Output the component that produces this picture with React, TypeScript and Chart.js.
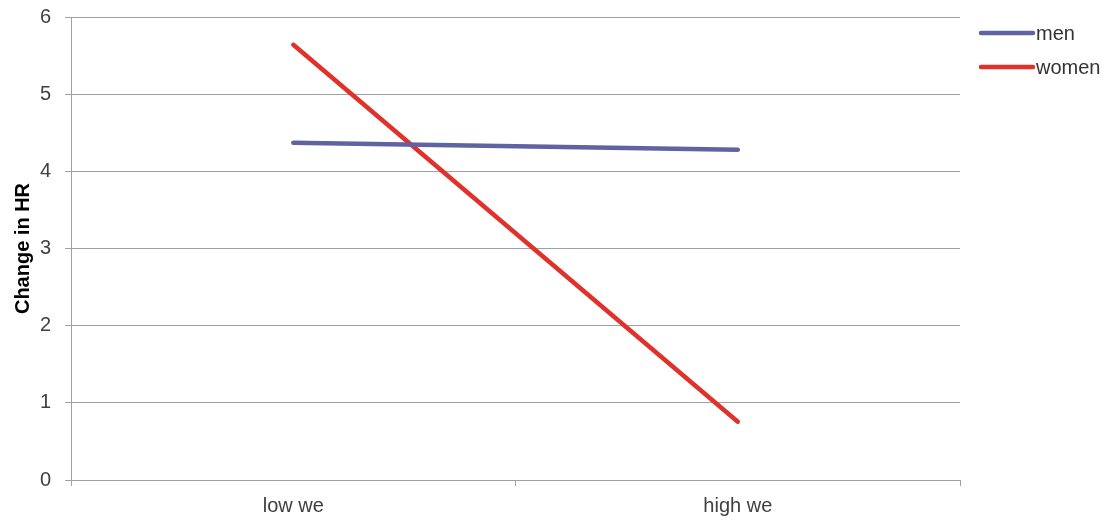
import React, { useEffect, useRef } from "react";
import { Chart, registerables } from "chart.js";

Chart.register(...registerables);

const categories = ["low we", "high we"];
const menValues = [4.37, 4.28];
const womenValues = [5.64, 0.755];
const yTicks = [0, 1, 2, 3, 4, 5, 6];
const seriesNames = ["men", "women"];
const seriesColors = ["#5F63A2", "#E0322A"];

const FONT = "'Liberation Sans', Arial, sans-serif";

const sideLegend = {
  id: "sideLegend",
  afterDraw(chart: any) {
    const ctx = chart.ctx;
    ctx.save();
    chart.data.datasets.forEach((ds: any, i: number) => {
      const y = 33 + i * 34;
      ctx.strokeStyle = ds.borderColor;
      ctx.lineWidth = 4.5;
      ctx.lineCap = "round";
      ctx.beginPath();
      ctx.moveTo(981, y);
      ctx.lineTo(1033, y);
      ctx.stroke();
      ctx.fillStyle = "#333333";
      ctx.font = `20px ${FONT}`;
      ctx.textBaseline = "alphabetic";
      ctx.textAlign = "left";
      ctx.fillText(ds.label, 1036, y + 7);
    });
    ctx.restore();
  },
};

export default function App() {
  const ref = useRef<HTMLCanvasElement>(null);
  useEffect(() => {
    if (!ref.current) return;
    const chart = new Chart(ref.current, {
      type: "line",
      data: {
        labels: categories,
        datasets: [
          {
            label: seriesNames[0],
            data: menValues,
            borderColor: seriesColors[0],
            backgroundColor: seriesColors[0],
            borderWidth: 4.5,
            pointRadius: 0,
            borderCapStyle: "round",
          },
          {
            label: seriesNames[1],
            data: womenValues,
            borderColor: seriesColors[1],
            backgroundColor: seriesColors[1],
            borderWidth: 4.5,
            pointRadius: 0,
            borderCapStyle: "round",
          },
        ],
      },
      options: {
        animation: false,
        responsive: false,
        layout: { padding: { left: 6, top: 17, right: 152, bottom: 0 } },
        plugins: {
          legend: { display: false },
          tooltip: { enabled: false },
        },
        scales: {
          x: {
            type: "category",
            offset: true,
            grid: {
              offset: true,
              drawOnChartArea: false,
              drawTicks: true,
              tickLength: 6,
              color: "#A0A0A0",
            },
            border: { color: "#A0A0A0" },
            ticks: {
              color: "#404040",
              font: { family: FONT, size: 20 },
              padding: 8,
              maxRotation: 0,
            },
          },
          y: {
            min: 0,
            max: 6,
            afterBuildTicks: (axis: any) => {
              axis.ticks = yTicks.map((v) => ({ value: v }));
            },
            grid: { color: "#A0A0A0", tickLength: 6 },
            border: { color: "#A0A0A0" },
            ticks: {
              color: "#404040",
              font: { family: FONT, size: 20, lineHeight: 0.3 },
              padding: 14,
            },
            title: {
              display: true,
              text: "Change in HR",
              color: "#000000",
              font: { family: FONT, size: 20, weight: "bold" },
              padding: { top: 5, bottom: -9 },
            },
          },
        },
      },
      plugins: [sideLegend],
    });
    return () => chart.destroy();
  }, []);
  return (
    <div style={{ position: "absolute", left: 0, top: 0, width: 1112, height: 521, overflow: "hidden", background: "#fff" }}>
      <canvas ref={ref} width={1112} height={526} style={{ display: "block" }} />
    </div>
  );
}
